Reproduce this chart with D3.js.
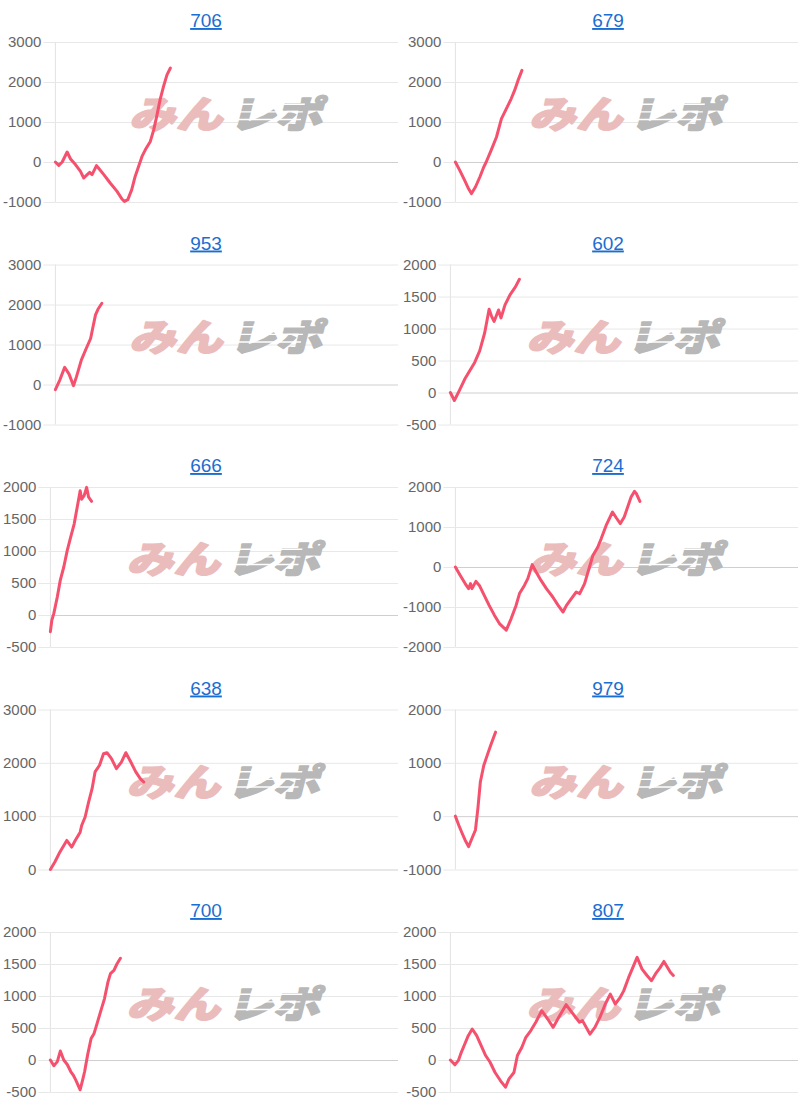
<!DOCTYPE html>
<meta charset="utf-8">
<html lang="ja">
<style>

body { margin: 0; background: #fff; }
.line {
  fill: none;
  stroke: #f5506d;
  stroke-width: 3px;
  stroke-linejoin: round;
  stroke-linecap: round;
}
.title {
  font-family: "Liberation Sans", Arial, sans-serif;
  font-size: 19px;
  fill: #1b6ed1;
  text-decoration: underline;
}
.tick text {
  font-family: "Liberation Sans", Arial, sans-serif;
  font-size: 15px;
  fill: #666;
}
.wm {
  font-family: "Noto Sans CJK JP", sans-serif;
  font-weight: 900;
  font-size: 44px;
  stroke-width: 2px;
  stroke-linejoin: round;
}

</style>
<body>
<script src="https://cdnjs.cloudflare.com/ajax/libs/d3/7.8.5/d3.min.js"></script>
<script>

// machine numbers (chart titles)
var titles = ["706", "679", "953", "602", "666", "724", "638", "979", "700", "807"];

// y tick labels for each chart
var ticksA = [-1000, 0, 1000, 2000, 3000];
var ticksB = [-500, 0, 500, 1000, 1500, 2000];
var ticksC = [-2000, -1000, 0, 1000, 2000];
var ticksD = [0, 1000, 2000, 3000];
var ticksE = [-1000, 0, 1000, 2000];

// games played (x) and coin difference (y)
var g706 = [0,70,140,240,310,410,510,580,650,700,750,840,880,990,1120,1260,1360,1410,1480,1560,1630,1700,1770,1840,1940,2010,2070,2140,2210,2280,2350];
var v706 = [0,-85,0,250,75,-65,-230,-400,-315,-260,-315,-90,-150,-315,-525,-735,-925,-985,-940,-690,-360,-110,140,310,515,810,1140,1560,1890,2180,2350];

var g679 = [0,90,190,270,330,410,500,580,630,730,840,940,1040,1140,1210,1280,1360];
var v679 = [0,-210,-460,-670,-790,-625,-375,-125,0,290,625,1080,1330,1580,1790,2040,2290];

var g953 = [0,90,190,280,370,430,530,630,720,770,820,870,950];
var v953 = [-130,110,430,260,-30,190,610,900,1150,1450,1740,1880,2030];

var g602 = [0,80,180,290,390,490,590,690,780,830,880,970,1020,1100,1200,1310,1390];
var v602 = [0,-125,30,210,340,470,650,930,1300,1190,1110,1290,1165,1370,1525,1650,1770];

var g666 = [0,30,70,140,200,270,340,410,480,540,600,630,680,730,770,830];
var v666 = [-260,-80,25,285,545,750,1010,1220,1425,1685,1940,1810,1865,1995,1840,1775];

var g724 = [0,100,200,270,310,340,420,490,590,690,800,900,1040,1140,1240,1310,1410,1480,1570,1650,1750,1860,1990,2100,2200,2270,2370,2470,2540,2640,2740,2810,2910,2980,3080,3210,3290,3370,3450,3520,3590,3660,3700,3770];
var v724 = [0,-210,-415,-540,-415,-540,-360,-460,-710,-960,-1210,-1415,-1580,-1290,-960,-665,-460,-290,60,-125,-335,-540,-750,-960,-1125,-960,-790,-625,-665,-415,0,290,500,710,1040,1375,1225,1085,1250,1500,1750,1890,1830,1640];

var g638 = [0,90,190,330,430,500,600,630,700,770,840,900,990,1070,1140,1230,1330,1430,1520,1620,1720,1810,1880];
var v638 = [0,140,325,545,420,545,700,825,985,1265,1515,1830,1955,2170,2190,2080,1890,2015,2190,2015,1830,1705,1640];

var g979 = [0,70,140,200,270,340,410,460,510,580,650,720,820];
var v979 = [0,-170,-325,-450,-570,-415,-260,145,640,950,1140,1325,1575];

var g700 = [0,70,140,200,270,340,410,460,510,600,650,690,750,820,880,950,1020,1090,1160,1210,1280,1340,1410];
var v700 = [0,-90,-25,140,0,-70,-180,-235,-310,-465,-310,-180,80,335,415,595,780,960,1220,1350,1400,1500,1590];

var g807 = [0,90,160,220,290,360,440,530,620,710,800,900,1010,1110,1180,1280,1350,1440,1520,1620,1720,1840,1960,2070,2180,2330,2470,2600,2660,2810,2910,3010,3120,3220,3320,3420,3490,3590,3690,3760,3860,3960,4050,4130,4220,4300,4370,4430,4490];
var v807 = [0,-75,-10,120,250,380,485,380,225,70,-35,-195,-325,-425,-295,-195,70,200,355,460,590,770,640,510,665,865,720,590,615,405,510,665,875,1030,875,980,1080,1290,1475,1605,1420,1320,1240,1345,1440,1540,1450,1370,1320];

var maxGames = 7000;

var charts = [
  {title: titles[0], games: g706, diffs: v706, ticks: ticksA},
  {title: titles[1], games: g679, diffs: v679, ticks: ticksA},
  {title: titles[2], games: g953, diffs: v953, ticks: ticksA},
  {title: titles[3], games: g602, diffs: v602, ticks: ticksB},
  {title: titles[4], games: g666, diffs: v666, ticks: ticksB},
  {title: titles[5], games: g724, diffs: v724, ticks: ticksC},
  {title: titles[6], games: g638, diffs: v638, ticks: ticksD},
  {title: titles[7], games: g979, diffs: v979, ticks: ticksE},
  {title: titles[8], games: g700, diffs: v700, ticks: ticksB},
  {title: titles[9], games: g807, diffs: v807, ticks: ticksB}
];

var svg = d3.select("body").append("svg")
    .attr("width", 800)
    .attr("height", 1110);

// used to measure tick label widths, like chart.js does for the left padding
var probe = svg.append("g").attr("class", "tick").append("text");
function labelWidth(s) {
  probe.text(s);
  return probe.node().getComputedTextLength();
}

var rowStep = 222.5,
    plotTop = 42,
    plotH = 160;

charts.forEach(function(c, i) {
  var colX = (i % 2) * 400,
      rowY = Math.floor(i / 2) * rowStep;

  var maxW = d3.max(c.ticks, function(t) { return labelWidth(String(t)); });
  var left = colX + 3 + maxW + 14,
      right = colX + 398,
      top = rowY + plotTop,
      bottom = top + plotH;

  var x = d3.scaleLinear().domain([0, maxGames]).range([left, right]);
  var y = d3.scaleLinear().domain(d3.extent(c.ticks)).range([bottom, top]);

  var g = svg.append("g");

  // title
  g.append("text")
      .attr("class", "title")
      .attr("x", colX + (i % 2 ? 208 : 206))
      .attr("y", rowY + 27)
      .attr("text-anchor", "middle")
      .text(c.title);

  // gridlines
  g.append("g")
      .attr("transform", "translate(" + left + ",0)")
      .call(d3.axisLeft(y).tickValues(c.ticks).tickSize(-(right - left)).tickFormat(""))
      .call(function(a) {
        a.select(".domain").remove();
        a.selectAll(".tick line")
            .attr("stroke", function(d) { return d === 0 ? "#cfcfcf" : "#e8e8e8"; });
      });

  // y axis with short tick marks
  g.append("g")
      .attr("transform", "translate(" + left + ",0)")
      .call(d3.axisLeft(y).tickValues(c.ticks).tickSize(12).tickPadding(2).tickFormat(String))
      .call(function(a) {
        a.select(".domain").attr("stroke", "#e2e2e2").attr("d", "M0," + top + "V" + bottom);
        a.selectAll(".tick line").attr("stroke", "#e8e8e8");
      });

  // watermark
  var wm = g.append("g")
      .attr("transform", "translate(" + ((left + right) / 2 - 2) + "," + (top + 86) + ") skewX(-14) scale(1.06,0.85)");
  wm.append("text")
      .attr("class", "wm")
      .attr("x", -2)
      .attr("text-anchor", "end")
      .attr("fill", "#ebbcbc")
      .attr("stroke", "#ebbcbc")
      .text("みん");
  wm.append("text")
      .attr("class", "wm")
      .attr("x", 4)
      .attr("fill", "#b8b8b8")
      .attr("stroke", "#b8b8b8")
      .text("レポ");
  // speed stripes over the grey part
  wm.selectAll("line")
      .data([-28, -19, -10])
      .enter().append("line")
      .attr("x1", 2)
      .attr("x2", 70)
      .attr("y1", function(d) { return d; })
      .attr("y2", function(d) { return d; })
      .attr("stroke", "#fff")
      .attr("stroke-width", 1.6);

  // the line
  g.append("path")
      .datum(d3.zip(c.games, c.diffs))
      .attr("class", "line")
      .attr("d", d3.line()
          .x(function(d) { return x(d[0]); })
          .y(function(d) { return y(d[1]); }));
});

probe.node().parentNode.remove();

</script>
</body>
</html>
